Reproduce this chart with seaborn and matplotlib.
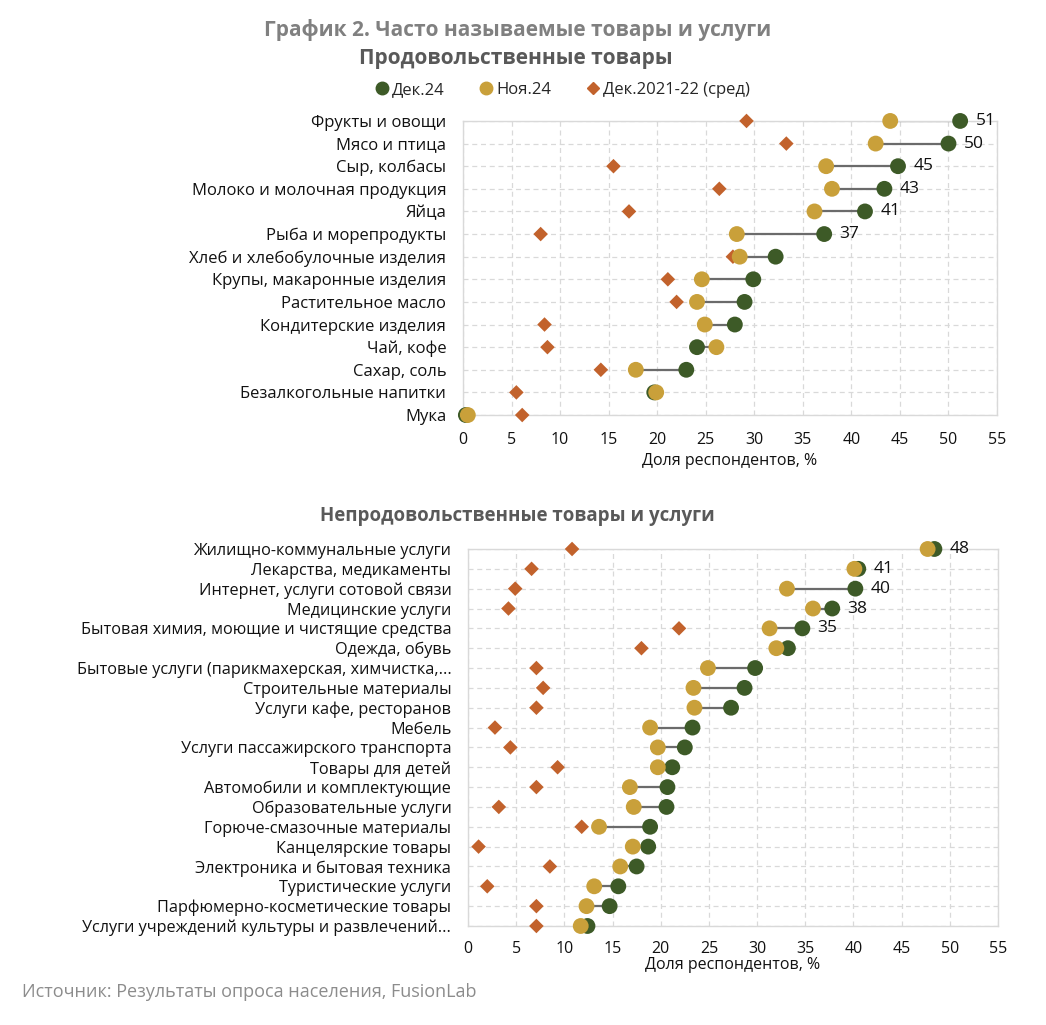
import numpy as np
import pandas as pd
import matplotlib
matplotlib.use("Agg")
import matplotlib.pyplot as plt
import seaborn as sns
from matplotlib.lines import Line2D

# ---------------- data ----------------
food_cats = ["Фрукты и овощи", "Мясо и птица", "Сыр, колбасы", "Молоко и молочная продукция",
             "Яйца", "Рыба и морепродукты", "Хлеб и хлебобулочные изделия",
             "Крупы, макаронные изделия", "Растительное масло", "Кондитерские изделия",
             "Чай, кофе", "Сахар, соль", "Безалкогольные напитки", "Мука"]
food_dec24 = [51.2, 50.0, 44.8, 43.4, 41.4, 37.2, 32.2, 29.9, 29.0, 28.0, 24.1, 23.0, 19.7, 0.3]
food_nov24 = [44.0, 42.5, 37.4, 38.0, 36.2, 28.2, 28.5, 24.6, 24.1, 24.9, 26.1, 17.8, 19.9, 0.5]
food_avg = [29.2, 33.3, 15.5, 26.4, 17.1, 8.0, 27.8, 21.1, 22.0, 8.4, 8.7, 14.2, 5.5, 6.1]
food_labels = ["51", "50", "45", "43", "41", "37", "", "", "", "", "", "", "", ""]

nonfood_cats = ["Жилищно-коммунальные услуги", "Лекарства, медикаменты",
                "Интернет, услуги сотовой связи", "Медицинские услуги",
                "Бытовая химия, моющие и чистящие средства", "Одежда, обувь",
                "Бытовые услуги (парикмахерская, химчистка,...", "Строительные материалы",
                "Услуги кафе, ресторанов", "Мебель", "Услуги пассажирского транспорта",
                "Товары для детей", "Автомобили и комплектующие", "Образовательные услуги",
                "Горюче-смазочные материалы", "Канцелярские товары",
                "Электроника и бытовая техника", "Туристические услуги",
                "Парфюмерно-косметические товары", "Услуги учреждений культуры и развлечений..."]
nonfood_dec24 = [48.4, 40.5, 40.2, 37.8, 34.7, 33.2, 29.8, 28.7, 27.3, 23.3, 22.5, 21.2,
                 20.7, 20.6, 18.9, 18.7, 17.5, 15.6, 14.7, 12.4]
nonfood_nov24 = [47.7, 40.1, 33.1, 35.8, 31.3, 32.0, 24.9, 23.4, 23.5, 18.9, 19.7, 19.7,
                 16.8, 17.2, 13.6, 17.1, 15.8, 13.1, 12.3, 11.7]
nonfood_avg = [10.8, 6.6, 4.9, 4.2, 21.9, 18.0, 7.1, 7.8, 7.1, 2.8, 4.4, 9.3,
               7.1, 3.2, 11.8, 1.1, 8.5, 2.0, 7.1, 7.1]
nonfood_labels = ["48", "41", "40", "38", "35"] + [""] * 15

series_names = ["Дек.24", "Ноя.24", "Дек.2021-22 (сред)"]
x_ticks = [0, 5, 10, 15, 20, 25, 30, 35, 40, 45, 50, 55]
x_title = "Доля респондентов, %"

# ---------------- style ----------------
sns.set_theme(style="white")
plt.rcParams["font.family"] = ["Open Sans", "DejaVu Sans"]

GREEN = "#3d5a27"
GOLD = "#c9a03a"
ORANGE = "#c2622c"
LINE = "#6b6b6b"
GRID = "#d9d9d9"

fig = plt.figure(figsize=(10.46, 10.25), dpi=100)


def draw(ax, cats, dec, nov, avg, labels, ylabsize, xpad, lpad):
    n = len(cats)
    df = pd.DataFrame({"cat": cats, "pos": np.arange(n), "dec": dec, "nov": nov, "avg": avg})
    ax.hlines(df["pos"], np.minimum(df["dec"], df["nov"]), np.maximum(df["dec"], df["nov"]),
              color=LINE, lw=1.6, zorder=2)
    sns.scatterplot(data=df, x="avg", y="pos", ax=ax, marker="D", s=55, color=ORANGE,
                    edgecolor="none", zorder=3, clip_on=False, legend=False)
    sns.scatterplot(data=df, x="dec", y="pos", ax=ax, marker="o", s=130, color=GREEN,
                    edgecolor="none", zorder=4, clip_on=False, legend=False)
    sns.scatterplot(data=df, x="nov", y="pos", ax=ax, marker="o", s=130, color=GOLD,
                    edgecolor="none", zorder=5, clip_on=False, legend=False)
    for p, v, lab in zip(df["pos"], df["dec"], labels):
        if lab:
            ax.annotate(lab, (v, p), xytext=(11, 0), textcoords="offset points",
                        ha="left", va="center", fontsize=12.5, color="#111111")
    ax.set_xlim(0, 55)
    ax.set_ylim(n - 1, 0)
    ax.set_xticks(x_ticks)
    ax.set_xticklabels([str(t) for t in x_ticks])
    ax.set_yticks(df["pos"])
    ax.set_yticklabels(cats)
    ax.grid(True, color=GRID, ls=(0, (4, 3)), lw=0.9)
    ax.set_axisbelow(True)
    for s in ax.spines.values():
        s.set_color(GRID)
        s.set_linewidth(1.0)
    ax.tick_params(axis="y", length=4, color=GRID, labelsize=ylabsize, pad=8, labelcolor="#111111")
    ax.tick_params(axis="x", length=0, labelsize=11.5, pad=xpad, labelcolor="#111111")
    ax.set_ylabel("")
    ax.set_xlabel(x_title, fontsize=11.5, color="#111111", labelpad=lpad)


ax1 = fig.add_axes([0.4426, 0.5951, 0.5106, 0.2869])
draw(ax1, food_cats, food_dec24, food_nov24, food_avg, food_labels, 12, 12, 4)

ax2 = fig.add_axes([0.4474, 0.0966, 0.5067, 0.3678])
draw(ax2, nonfood_cats, nonfood_dec24, nonfood_nov24, nonfood_avg, nonfood_labels, 11.7, 11, 0)

fig.text(0.495, 0.971, "График 2. Часто называемые товары и услуги", ha="center", va="center",
         fontsize=15, fontweight="bold", color="#808080")
fig.text(0.4935, 0.943, "Продовольственные товары", ha="center", va="center",
         fontsize=15, fontweight="bold", color="#595959")
fig.text(0.495, 0.497, "Непродовольственные товары и услуги", ha="center", va="center",
         fontsize=13.5, fontweight="bold", color="#595959")
fig.text(0.021, 0.032, "Источник: Результаты опроса населения, FusionLab", ha="left", va="center",
         fontsize=13, color="#8c8c8c")

handles = [Line2D([], [], ls="none", marker="o", ms=9, color=GREEN),
           Line2D([], [], ls="none", marker="o", ms=9, color=GOLD),
           Line2D([], [], ls="none", marker="D", ms=6, color=ORANGE)]
fig.legend(handles, series_names, loc="center", bbox_to_anchor=(0.537, 0.912), ncol=3,
           frameon=False, fontsize=12, handletextpad=0.1, columnspacing=2.0, handlelength=1.0)

fig.savefig("out.png", dpi=100)
